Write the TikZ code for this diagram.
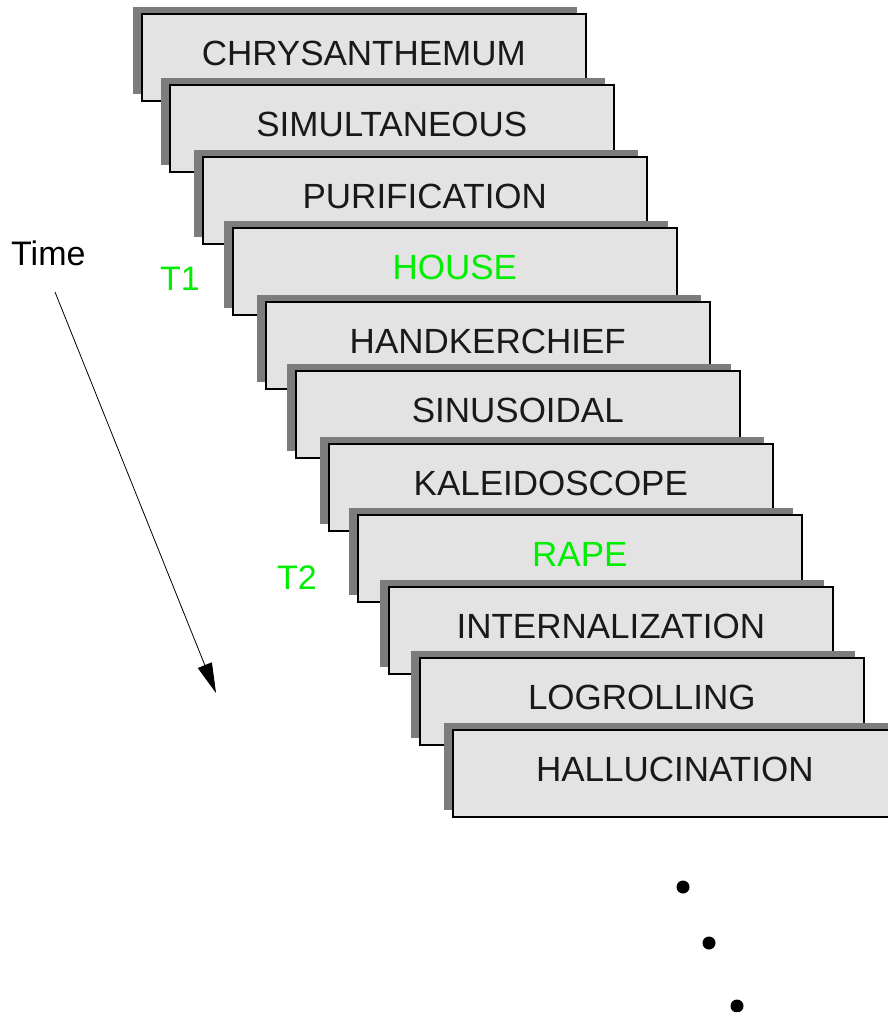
\documentclass[tikz,border=0pt]{standalone}
\usepackage{fontspec}
\setmainfont{Liberation Sans}
\usetikzlibrary{arrows.meta, shadows}
\definecolor{CardGray}{HTML}{E3E3E3}
\definecolor{ShadowGray}{HTML}{7C7C7C}
\definecolor{TGreen}{HTML}{00EE00}

\begin{document}
\begin{tikzpicture}[x=1pt, y=-1pt,
    word/.style={draw=black, line width=1.6pt, fill=CardGray, anchor=north west,
        minimum width=444pt, minimum height=87pt, inner sep=0pt, text depth=8pt,
        text=black!90, font=\fontsize{35}{40}\selectfont,
        copy shadow={shadow xshift=-9pt, shadow yshift=7pt, fill=ShadowGray, draw=none}},
    label/.style={anchor=base west, inner sep=0pt, font=\fontsize{34}{40}\selectfont}]
    \useasboundingbox (0,0) rectangle (887,1012);

    % Word cards, stepping down to the right
    \node[word] (chrys) at (141, 13) {CHRYSANTHEMUM};
    \node[word] (simul) at (169, 84) {SIMULTANEOUS};
    \node[word] (purif) at (202, 156) {PURIFICATION};
    \node[word, text=TGreen] (house) at (232, 227) {HOUSE};
    \node[word] (handk) at (265, 301) {HANDKERCHIEF};
    \node[word] (sinus) at (295, 370) {SINUSOIDAL};
    \node[word] (kalei) at (328, 443) {KALEIDOSCOPE};
    \node[word, text=TGreen] (rape) at (357, 514) {RAPE};
    \node[word] (inter) at (388, 586) {INTERNALIZATION};
    \node[word] (logro) at (419, 657) {LOGROLLING};
    \node[word] (hallu) at (452, 729) {HALLUCINATION};

    % Time markers
    \node[label, text=TGreen] (t1) at (160, 290) {T1};
    \node[label, text=TGreen] (t2) at (277, 589) {T2};

    % Time axis
    \node[label] (time) at (11, 265) {Time};
    \coordinate (tstart) at (55, 292);
    \coordinate (tend) at (216, 693);
    \draw[line width=0.8pt, -{Triangle[length=30pt, width=15pt]}] (tstart) -- (tend);

    % More words follow
    \fill (683, 887) circle (6.5pt);
    \fill (709, 943) circle (6.5pt);
    \fill (737, 1006) circle (6.5pt);
\end{tikzpicture}
\end{document}
